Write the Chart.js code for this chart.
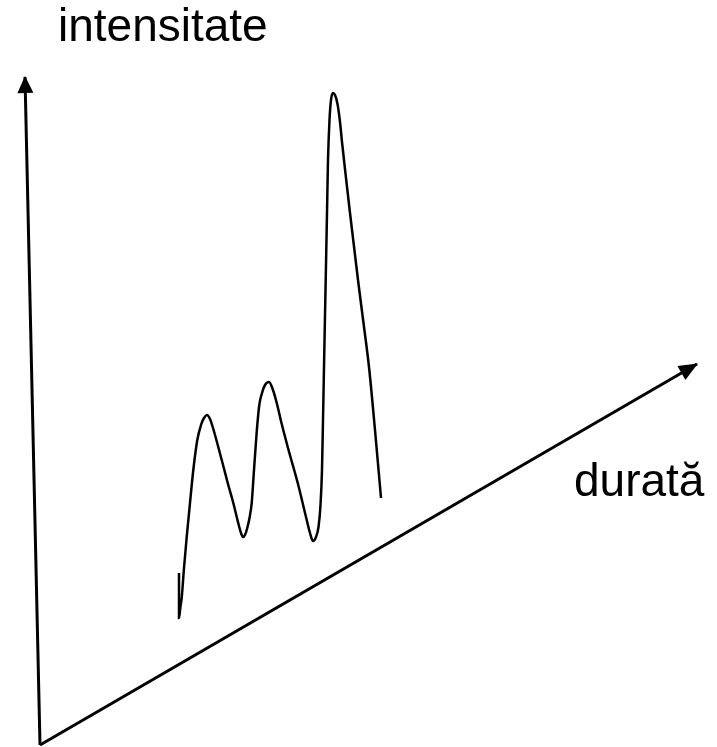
<!DOCTYPE html>
<html>
<head>
<meta charset="utf-8">
<title>intensitate / durată</title>
<script src="https://cdn.jsdelivr.net/npm/chart.js@4.4.1/dist/chart.umd.min.js"></script>
<style>
  html, body { margin: 0; padding: 0; background: #ffffff; }
  #wrap { width: 717px; height: 747px; }
</style>
</head>
<body>
<div id="wrap"><canvas id="c" width="717" height="747"></canvas></div>
<script>
// Sketch of intensity over duration: three rising peaks on oblique axes.
// Coordinates are in the plot's own units (x: duration, y: intensity).

// Axis endpoints (origin first, arrow tip last)
const verticalAxisX = [40, 25];
const verticalAxisY = [2, 670];
const horizontalAxisX = [40, 697];
const horizontalAxisY = [2, 383];

// The intensity curve
const durata = [
  179, 179, 180.3, 181.7, 184, 186.7, 190, 193.3, 197.3, 201, 204, 207,
  210, 213.3, 218, 223.3, 228, 233.3, 237, 239, 241, 243,
  245, 247, 249.5, 251.7, 254, 256.7, 259.3, 262, 265, 269,
  273, 277, 281, 288, 298, 306, 310, 313,
  316, 318.5, 320.5, 322, 323, 324, 325.5, 327, 328, 329.5, 331, 333,
  335, 337.5, 340, 342, 346, 350, 358, 363.5, 369, 375, 381
];
const intensitate = [
  174, 129, 139, 149, 179, 210, 244, 277, 307, 322, 329, 332,
  328, 318, 301, 281, 263, 244, 229, 221, 214, 210,
  212, 218, 229, 244, 277, 315, 342, 354, 362, 365,
  357, 343, 326, 299, 263, 230, 214, 206,
  210, 220, 242, 277, 327, 380, 457, 534, 587, 627, 647, 654,
  652, 643, 625, 605, 569, 534, 467, 424, 380, 317, 249
];

// Label texts and their anchors (left/baseline)
const labelTexts = ['intensitate', 'durată'];
const labelX = [58, 574];
const labelY = [706, 251];

function toPoints(xs, ys) { return xs.map((x, i) => ({ x: x, y: ys[i] })); }

const arrowHeads = {
  id: 'arrowHeads',
  afterDatasetsDraw(chart) {
    const ctx = chart.ctx;
    chart.data.datasets.forEach((ds, i) => {
      if (!ds.arrowHead) return;
      const pts = chart.getDatasetMeta(i).data;
      const a = pts[pts.length - 2], b = pts[pts.length - 1];
      const ang = Math.atan2(b.y - a.y, b.x - a.x);
      const len = ds.arrowHead.length, half = ds.arrowHead.width / 2;
      ctx.save();
      ctx.translate(b.x, b.y);
      ctx.rotate(ang);
      ctx.beginPath();
      ctx.moveTo(1, 0);
      ctx.lineTo(-len, -half);
      ctx.lineTo(-len, half);
      ctx.closePath();
      ctx.fillStyle = ds.borderColor;
      ctx.fill();
      ctx.restore();
    });
  }
};

const sketchLabels = {
  id: 'sketchLabels',
  afterDraw(chart, args, opts) {
    const ctx = chart.ctx;
    const xs = chart.scales.x, ys = chart.scales.y;
    ctx.save();
    ctx.font = opts.font;
    ctx.fillStyle = opts.color;
    ctx.textAlign = 'left';
    ctx.textBaseline = 'alphabetic';
    labelTexts.forEach((t, i) => {
      ctx.fillText(t, xs.getPixelForValue(labelX[i]), ys.getPixelForValue(labelY[i]));
    });
    ctx.restore();
  }
};

new Chart(document.getElementById('c'), {
  type: 'scatter',
  data: {
    datasets: [
      {
        data: toPoints(verticalAxisX, verticalAxisY),
        showLine: true, borderColor: '#000000', borderWidth: 3,
        pointRadius: 0, borderCapStyle: 'butt',
        arrowHead: { length: 16, width: 16 }
      },
      {
        data: toPoints(horizontalAxisX, horizontalAxisY),
        showLine: true, borderColor: '#000000', borderWidth: 3,
        pointRadius: 0, borderCapStyle: 'butt',
        arrowHead: { length: 18, width: 16 }
      },
      {
        data: toPoints(durata, intensitate),
        showLine: true, borderColor: '#000000', borderWidth: 2.5,
        pointRadius: 0, cubicInterpolationMode: 'monotone', borderCapStyle: 'butt'
      }
    ]
  },
  plugins: [arrowHeads, sketchLabels],
  options: {
    responsive: false,
    animation: false,
    devicePixelRatio: 1,
    layout: { padding: 0 },
    scales: {
      x: { type: 'linear', min: 0, max: 717, display: false },
      y: { type: 'linear', min: 0, max: 747, display: false }
    },
    plugins: {
      legend: { display: false },
      tooltip: { enabled: false },
      sketchLabels: { font: '46px "Liberation Sans", Arial, sans-serif', color: '#000000' }
    }
  }
});
</script>
</body>
</html>
